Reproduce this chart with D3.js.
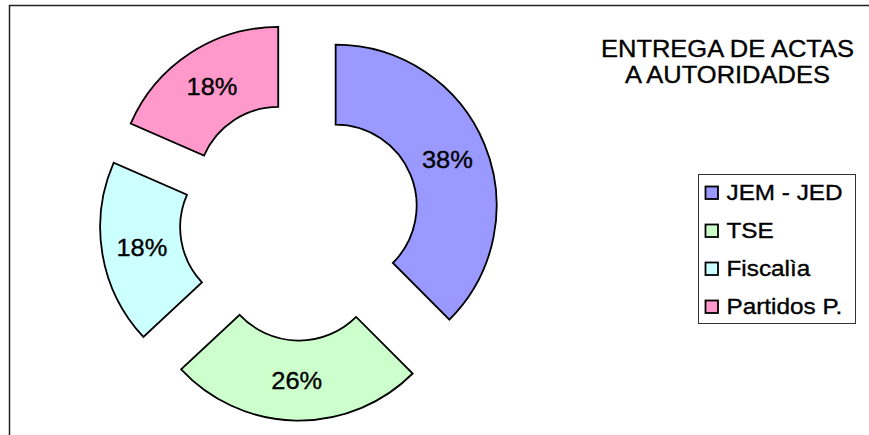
<!DOCTYPE html>
<html><head><meta charset="utf-8">
<script src="https://cdn.jsdelivr.net/npm/d3@7"></script>
<style>body{margin:0;background:#fff}svg{display:block}text{font-family:"Liberation Sans",Arial,sans-serif;fill:#000;stroke:#000;stroke-width:0.35px}</style>
</head><body>
<svg id="c" width="869" height="435"></svg>
<script>
const categories = ["JEM - JED", "TSE", "Fiscalìa", "Partidos P."];
const values = [37.51, 25.55, 18.49, 18.45];
const colors = ["#9999FF", "#CCFFCC", "#CCFFFF", "#FF99CC"];
const titleLines = ["ENTREGA DE ACTAS", "A AUTORIDADES"];

const svg = d3.select("#c");
svg.append("rect").attr("x",9.5).attr("y",5.5).attr("width",900).attr("height",500)
  .attr("fill","#fff").attr("stroke","#222").attr("stroke-width",1.5);

const cx = 299.6, cy = 220.6, R = 161, r = 81, explode = 39;
const total = d3.sum(values);
const pie = d3.pie().sort(null).value(d => d)(values);
const arc = d3.arc().innerRadius(r).outerRadius(R);
const pct = d3.format(".0%");

const g = svg.append("g").attr("transform", `translate(${cx},${cy})`);
pie.forEach((p, i) => {
  const mid = (p.startAngle + p.endAngle) / 2;
  const dx = explode * Math.sin(mid), dy = -explode * Math.cos(mid);
  const sg = g.append("g").attr("transform", `translate(${dx},${dy})`);
  sg.append("path").attr("d", arc(p)).attr("fill", colors[i])
    .attr("stroke", "#000").attr("stroke-width", 1.8).attr("stroke-linejoin","miter");
  const [lx, ly] = arc.centroid(p);
  const t = sg.append("text").attr("x", lx).attr("y", ly).attr("dy", "0.36em")
    .attr("text-anchor", "middle").attr("font-size", 24)
    .text(pct(values[i] / total));
  const w = t.node().getComputedTextLength();
  t.attr("textLength", w * 1.06).attr("lengthAdjust", "spacingAndGlyphs");
});

titleLines.forEach((s, i) => {
  const t = svg.append("text").attr("x", 727.5).attr("y", 56.5 + i * 26)
    .attr("text-anchor", "middle").attr("font-size", 24.5).text(s);
  const w = t.node().getComputedTextLength();
  t.attr("textLength", w * 1.04).attr("lengthAdjust", "spacingAndGlyphs");
});

const lg = svg.append("g");
lg.append("rect").attr("x", 698.5).attr("y", 174.5).attr("width", 157).attr("height", 149)
  .attr("fill", "#fff").attr("stroke", "#333").attr("stroke-width", 1);
const ly = d3.scalePoint().domain(categories).range([192.5, 306.5]);
categories.forEach((c, i) => {
  const y = ly(c);
  lg.append("rect").attr("x", 705.5).attr("y", y - 6).attr("width", 12.5).attr("height", 12.5)
    .attr("fill", colors[i]).attr("stroke", "#000").attr("stroke-width", 1.8);
  const t = lg.append("text").attr("x", 726.5).attr("y", y).attr("dy", "0.36em")
    .attr("font-size", 21.5).text(c);
  const w = t.node().getComputedTextLength();
  t.attr("textLength", w * 1.13).attr("lengthAdjust", "spacingAndGlyphs");
});
</script>
</body></html>
